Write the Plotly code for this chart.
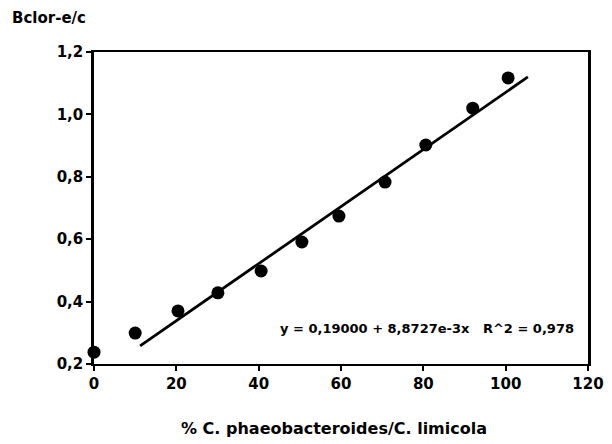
import plotly.graph_objects as go

x_vals = [0, 10, 20.4, 30.1, 40.6, 50.5, 59.5, 70.7, 80.6, 92, 100.6]
y_vals = [0.238, 0.299, 0.37, 0.428, 0.498, 0.591, 0.674, 0.783, 0.902, 1.02, 1.117]
# regression line as drawn in the figure (endpoints)
fit_x = [11.2, 105.4]
fit_y = [0.258, 1.12]
x_ticks = [0, 20, 40, 60, 80, 100, 120]
y_ticks = [0.2, 0.4, 0.6, 0.8, 1.0, 1.2]
equation_text = "y = 0,19000 + 8,8727e-3x   R^2 = 0,978"

font = "DejaVu Sans, Arial, sans-serif"

fig = go.Figure()
fig.add_trace(go.Scatter(x=fit_x, y=fit_y, mode="lines",
                         line=dict(color="black", width=2.8), showlegend=False))
fig.add_trace(go.Scatter(x=x_vals, y=y_vals, mode="markers",
                         marker=dict(color="black", size=13), showlegend=False, cliponaxis=False))

fig.update_layout(
    width=612, height=444,
    margin=dict(l=86, r=32, t=44, b=88),
    paper_bgcolor="white", plot_bgcolor="white",
    separators=", ",
    font=dict(family=font, color="black", size=13),
    xaxis=dict(range=[0, 120], tickvals=x_ticks, ticks="outside", ticklen=5,
               tickwidth=1.5, tickcolor="black", showline=True, linecolor="black",
               linewidth=2, mirror=True, showgrid=False, zeroline=False,
               tickfont=dict(size=15, family=font, weight="bold")),
    yaxis=dict(range=[0.2, 1.2], tickvals=y_ticks, tickformat=".1f", ticks="outside",
               ticklen=5, tickwidth=1.5, tickcolor="black", showline=True,
               linecolor="black", linewidth=2.5, mirror=True, showgrid=False,
               zeroline=False, tickfont=dict(size=15, family=font, weight="bold")),
    annotations=[
        dict(text="Bclor-e/c", xref="paper", yref="paper", x=-84/494, y=1 + 34/312,
             xanchor="left", yanchor="middle", showarrow=False,
             font=dict(size=15, family=font, weight="bold")),
        dict(text="% C. phaeobacteroides/C. limicola", xref="paper", yref="paper",
             x=(334 - 94) / 494, y=-64/312, xanchor="center", yanchor="middle", showarrow=False,
             font=dict(size=16, family=font, weight="bold")),
        dict(text=equation_text, xref="paper", yref="paper",
             x=(576 - 94) / 494, y=(364 - 328) / 312, xanchor="right", yanchor="middle",
             showarrow=False, font=dict(size=13, family=font, weight="bold")),
    ],
)

fig.write_html("out.html")
